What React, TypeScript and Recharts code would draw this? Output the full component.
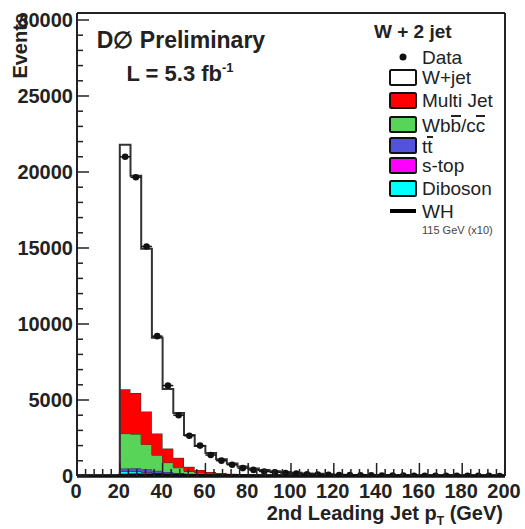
import React from 'react';
import { ComposedChart, Area, Line, Scatter, ErrorBar, XAxis, YAxis, ReferenceLine } from 'recharts';

// bin low edges (GeV), 5 GeV bins
const BIN_LOW = [20, 25, 30, 35, 40, 45, 50, 55, 60, 65, 70, 75, 80, 85, 90, 95, 100, 105, 110, 115, 120, 125, 130, 135, 140, 145, 150, 155, 160, 165, 170, 175, 180, 185, 190, 195];
const BIN_WIDTH = 5;
const X_MIN = 0;
const X_MAX = 200;

const DATA = [21000, 19650, 15100, 9200, 5950, 4000, 2650, 2000, 1380, 1010, 740, 520, 400, 300, 240, 190, 160, 120, 100, 85, 70, 55, 45, 40, 32, 26, 22, 18, 15, 12, 10, 8, 7, 6, 5, 4];
const WJET = [16100, 14300, 10700, 6310, 3920, 2945, 2090, 1575, 1245, 905, 668, 503, 414, 334, 270, 220, 180, 147, 122, 97, 79, 66, 53, 44, 36, 30, 24, 20, 16, 14, 11, 9, 7, 6, 5, 5];
const MULTIJET = [2910, 2700, 2170, 1420, 920, 650, 310, 200, 120, 90, 70, 55, 40, 30, 22, 17, 13, 10, 8, 6, 5, 4, 3, 3, 2, 2, 2, 1, 1, 1, 1, 1, 0, 0, 0, 0];
const WBB = [2300, 2250, 1640, 1025, 620, 350, 150, 90, 60, 45, 32, 25, 18, 14, 11, 8, 6, 5, 4, 3, 2, 2, 1, 1, 1, 0, 0, 0, 0, 0, 0, 0, 0, 0, 0, 0];
const TTBAR = [150, 170, 160, 140, 115, 90, 70, 55, 42, 32, 25, 20, 15, 12, 10, 8, 6, 5, 4, 3, 3, 2, 2, 1, 1, 1, 0, 0, 0, 0, 0, 0, 0, 0, 0, 0];
const STOP = [40, 45, 40, 35, 28, 22, 16, 12, 9, 7, 5, 4, 3, 2, 2, 1, 1, 0, 0, 0, 0, 0, 0, 0, 0, 0, 0, 0, 0, 0, 0, 0, 0, 0, 0, 0];
const DIBOSON = [300, 290, 240, 170, 120, 85, 60, 40, 30, 22, 16, 12, 9, 7, 5, 4, 3, 2, 2, 1, 1, 0, 0, 0, 0, 0, 0, 0, 0, 0, 0, 0, 0, 0, 0, 0];
const WH = [50, 60, 65, 60, 52, 45, 38, 30, 24, 19, 15, 12, 9, 7, 6, 5, 4, 3, 3, 2, 2, 1, 1, 1, 0, 0, 0, 0, 0, 0, 0, 0, 0, 0, 0, 0];

const X_MAJOR = [0, 20, 40, 60, 80, 100, 120, 140, 160, 180, 200];
const Y_MAJOR = [0, 5000, 10000, 15000, 20000, 25000, 30000];
const Y_MAX = 30460;

const SERIES = [
  { key: 'diboson', values: DIBOSON, color: '#00ffff' },
  { key: 'stop', values: STOP, color: '#ff00ff' },
  { key: 'ttbar', values: TTBAR, color: '#5252dc' },
  { key: 'wbb', values: WBB, color: '#58d458' },
  { key: 'multijet', values: MULTIJET, color: '#ff0000' },
  { key: 'wjet', values: WJET, color: '#ffffff' },
];

// layout constants
const W = 525;
const H = 529;
const PLOT_LEFT = 77;
const PLOT_BOTTOM = 476;
const FONT = '"Liberation Sans", Arial, Helvetica, sans-serif';
const INK = '#222';

// histogram rows at bin low edges (stepAfter), zeros below first bin, closing edge at X_MAX
const edges: number[] = [];
for (let e = X_MIN; e < BIN_LOW[0]; e += BIN_WIDTH) edges.push(e);
const rows: any[] = [];
edges.forEach((x) => {
  const r: any = { x, wh: 0 };
  SERIES.forEach((s) => (r[s.key] = 0));
  rows.push(r);
});
BIN_LOW.forEach((x, i) => {
  const r: any = { x, wh: WH[i] };
  SERIES.forEach((s) => (r[s.key] = s.values[i]));
  rows.push(r);
});
{
  const last = rows[rows.length - 1];
  rows.push({ ...last, x: X_MAX });
}

const points = BIN_LOW.map((x, i) => ({ x: x + BIN_WIDTH / 2, y: DATA[i], xerr: BIN_WIDTH / 2 }));

const xTicks: number[] = [];
for (let v = X_MIN; v <= X_MAX; v += 4) xTicks.push(v);
const yTicks: number[] = [];
for (let v = 0; v <= 30000; v += 1000) yTicks.push(v);

const XTick = (props: any) => {
  const { x, payload } = props;
  const v = payload.value;
  const major = X_MAJOR.includes(v);
  return (
    <g>
      <line x1={x} x2={x} y1={PLOT_BOTTOM} y2={PLOT_BOTTOM - (major ? 13 : 7)} stroke={INK} strokeWidth={1.5} />
      {major && (
        <text x={x - 1} y={498} textAnchor="middle" fontFamily={FONT} fontWeight="bold" fontSize={20} fill={INK}>
          {v}
        </text>
      )}
    </g>
  );
};

const YTick = (props: any) => {
  const { y, payload } = props;
  const v = payload.value;
  const major = Y_MAJOR.includes(v);
  return (
    <g>
      <line x1={PLOT_LEFT} x2={PLOT_LEFT + (major ? 12 : 6)} y1={y} y2={y} stroke={INK} strokeWidth={1.5} />
      {major && (
        <text x={73} y={y + 7} textAnchor="end" fontFamily={FONT} fontWeight="bold" fontSize={20} fill={INK}>
          {v}
        </text>
      )}
    </g>
  );
};

const LEGEND_ROWS = [
  { label: 'W+jet', color: '#ffffff', base: 84 },
  { label: 'Multi Jet', color: '#ff0000', base: 107 },
  { label: 'WBB', color: '#58d458', base: 131 },
  { label: 'TT', color: '#5252dc', base: 152 },
  { label: 's-top', color: '#ff00ff', base: 172 },
  { label: 'Diboson', color: '#00ffff', base: 195 },
];

// overline drawn as the top border of an inline-block whose box top sits just above the ascenders
const OL: React.CSSProperties = {
  display: 'inline-block',
  lineHeight: '17px',
  borderTop: `2px solid ${INK}`,
  boxSizing: 'content-box',
};

const legendLabel = (label: string) => {
  if (label === 'WBB')
    return (
      <>
        Wb<span style={OL}>b</span>/c<span style={OL}>c</span>
      </>
    );
  if (label === 'TT')
    return (
      <>
        t<span style={OL}>t</span>
      </>
    );
  return label;
};

const htmlText = (base: number, size: number): React.CSSProperties => ({
  position: 'absolute',
  left: 422,
  top: base - Math.round(size * 0.85),
  fontFamily: FONT,
  fontSize: size,
  lineHeight: `${size}px`,
  color: INK,
  whiteSpace: 'nowrap',
});

export default function App() {
  return (
    <div style={{ position: 'absolute', left: 0, top: 0, width: W, height: H, background: '#fff' }}>
      <ComposedChart width={W} height={H} data={rows} margin={{ top: 13, right: 20, left: 0, bottom: 0 }}>
        <XAxis
          dataKey="x"
          type="number"
          domain={[X_MIN, X_MAX]}
          ticks={xTicks}
          interval={0}
          height={53}
          allowDataOverflow
          axisLine={{ stroke: '#111', strokeWidth: 3.5 }}
          tickLine={false}
          tick={XTick}
        />
        <YAxis
          type="number"
          domain={[0, Y_MAX]}
          ticks={yTicks}
          interval={0}
          width={77}
          allowDataOverflow
          axisLine={{ stroke: INK, strokeWidth: 2 }}
          tickLine={false}
          tick={YTick}
        />
        {SERIES.map((s) => (
          <Area
            key={s.key}
            dataKey={s.key}
            type="stepAfter"
            stackId="mc"
            fill={s.color}
            fillOpacity={1}
            stroke="#333"
            strokeWidth={s.key === 'wjet' ? 2 : 1}
            isAnimationActive={false}
            dot={false}
            activeDot={false}
          />
        ))}
        <Line dataKey="wh" type="stepAfter" stroke="#000" strokeWidth={3} dot={false} isAnimationActive={false} />
        <Scatter
          data={points}
          dataKey="y"
          fill="#111"
          isAnimationActive={false}
          shape={(p: any) => <circle cx={p.cx} cy={p.cy} r={3.3} fill="#111" />}
        >
          <ErrorBar dataKey="xerr" direction="x" width={0} stroke="#111" strokeWidth={1.5} />
        </Scatter>
        <ReferenceLine y={Y_MAX} stroke={INK} strokeWidth={2} />
        <ReferenceLine x={X_MAX} stroke={INK} strokeWidth={2} />
      </ComposedChart>
      <svg
        width={W}
        height={H}
        style={{ position: 'absolute', left: 0, top: 0, pointerEvents: 'none' }}
        fontFamily={FONT}
      >
        <text transform="translate(27,13) rotate(-90)" textAnchor="end" fontWeight="bold" fontSize={20} fill={INK}>
          Events
        </text>
        <text x={503} y={520} textAnchor="end" fontWeight="bold" fontSize={20} fill={INK}>
          2nd Leading Jet p<tspan fontSize={12} dy={5}>T</tspan>
          <tspan dy={-5}> (GeV)</tspan>
        </text>
        <text x={181} y={48} textAnchor="middle" fontWeight="bold" fontSize={23} fill={INK}>
          D∅ Preliminary
        </text>
        <text x={180} y={81} textAnchor="middle" fontWeight="bold" fontSize={22} fill={INK}>
          L = 5.3 fb<tspan fontSize={13} dy={-9}>-1</tspan>
        </text>
        <text x={374} y={38} fontWeight="bold" fontSize={19} fill={INK}>
          W + 2 jet
        </text>
        <circle cx={403} cy={57} r={3.5} fill="#111" />
        {LEGEND_ROWS.map((r) => (
          <rect key={r.label} x={390} y={r.base - 14} width={26} height={15} fill={r.color} stroke="#111" strokeWidth={2} rx={1.5} />
        ))}
        <line x1={390} x2={416} y1={211} y2={211} stroke="#000" strokeWidth={4} />
      </svg>
      <div style={htmlText(64, 19)}>Data</div>
      {LEGEND_ROWS.map((r) => (
        <div key={r.label} style={htmlText(r.base, 19)}>
          {legendLabel(r.label)}
        </div>
      ))}
      <div style={htmlText(218, 19)}>WH</div>
      <div style={{ ...htmlText(234, 11), color: '#444' }}>115 GeV (x10)</div>
    </div>
  );
}
